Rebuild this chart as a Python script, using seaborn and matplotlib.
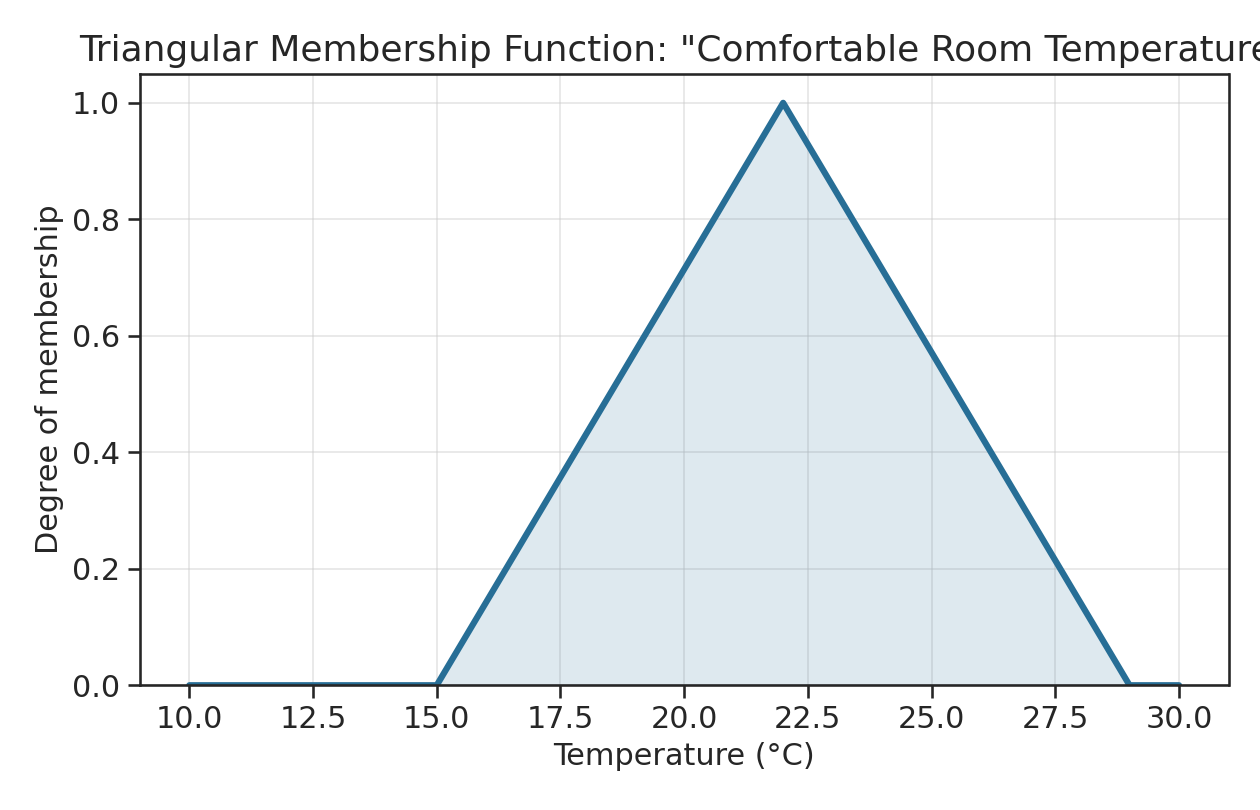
import numpy as np
import pandas as pd
import matplotlib
matplotlib.use("Agg")
import matplotlib.pyplot as plt
import seaborn as sns

# breakpoints of the triangle
temperature = [10.0, 15.0, 22.0, 29.0, 30.0]
membership = [0.0, 0.0, 1.0, 0.0, 0.0]

line_color = "#276e96"

sns.set_theme(style="ticks", context="notebook")
plt.rcParams["font.family"] = ["DejaVu Sans"]

df = pd.DataFrame({"Temperature (°C)": temperature, "Degree of membership": membership})

fig, ax = plt.subplots(figsize=(8.4, 5.4), dpi=150)

ax.fill_between(df["Temperature (°C)"], df["Degree of membership"], color=line_color, alpha=0.15, linewidth=0)
sns.lineplot(data=df, x="Temperature (°C)", y="Degree of membership", ax=ax,
             color=line_color, linewidth=3, sort=False)

ax.set_title('Triangular Membership Function: "Comfortable Room Temperature"', fontsize=17.3)
ax.set_xlabel("Temperature (°C)", fontsize=14.5)
ax.set_ylabel("Degree of membership", fontsize=14.5)
ax.set_xticks(np.arange(10, 30.1, 2.5))
ax.set_yticks(np.arange(0, 1.01, 0.2))
ax.tick_params(labelsize=14.5)
ax.set_ylim(0, 1.05)
ax.grid(True, alpha=0.5, linewidth=0.8)

fig.subplots_adjust(left=0.111, right=0.975, top=0.909, bottom=0.154)
fig.savefig("out.png", dpi=150)
